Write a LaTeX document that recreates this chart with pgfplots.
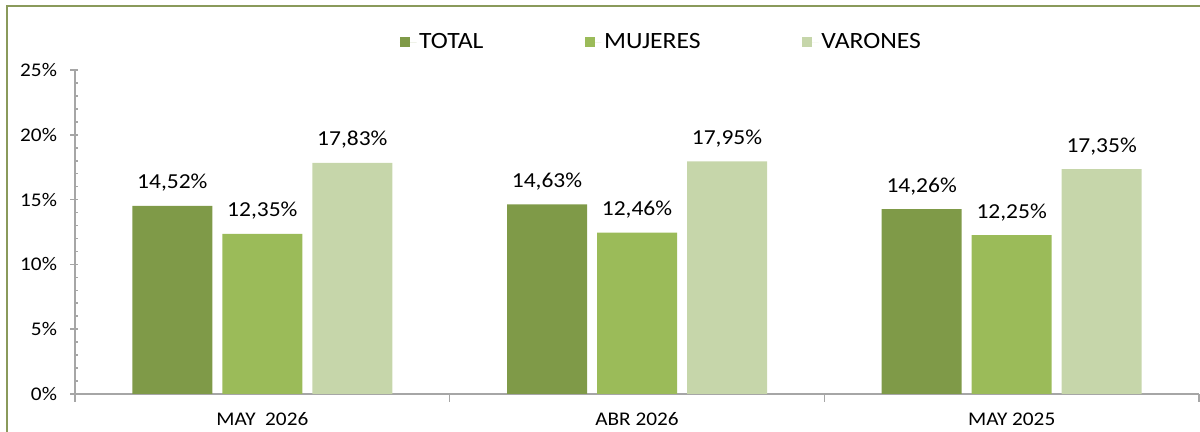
\documentclass[border=0pt]{standalone}
\usepackage{fontspec}
\setmainfont{Carlito}[FakeStretch=1.1]
\usepackage{pgfplots}
\pgfplotsset{compat=1.18}

\definecolor{cTotal}{HTML}{7F9A48}
\definecolor{cMuj}{HTML}{9BBB59}
\definecolor{cVar}{HTML}{C6D6AA}
\definecolor{cFrame}{HTML}{8A9A5B}
\definecolor{cAxis}{HTML}{A6A6A6}

\begin{document}
\begin{tikzpicture}[x=1pt,y=1pt]
  \useasboundingbox (0,0) rectangle (900,324);
  \clip (0,0) rectangle (900,324);
  \draw[cFrame, line width=1.9pt] (5.25,-20) rectangle (930,319.5);
  \begin{axis}[at={(56.25pt,28.5pt)}, anchor=south west,
    scale only axis, width=843pt, height=243pt,
    ybar=7.5pt, bar width=60pt,
    xmin=-0.5, xmax=2.5, ymin=0, ymax=25,
    xtick={-0.5,0.5,1.5,2.5},
    xticklabels={MAY\ \ 2026, ABR 2026, MAY 2025, {}},
    x tick label as interval,
    ytick={0,5,...,25}, minor y tick num=4,
    yticklabel={\pgfmathprintnumber{\tick}\%},
    /pgf/number format/assume math mode=true,
    axis lines*=left, axis line style={cAxis, line width=1.5pt, -},
    tick style={cAxis, line width=1.2pt},
    tick align=outside, major tick length=6pt, minor tick length=2.5pt,
    every major y tick/.append style={xshift=2.5pt},
    every minor y tick/.append style={xshift=2.5pt},
    tick label style={font=\fontsize{14.5}{16}\selectfont, text=black},
    x tick label style={anchor=base, yshift=-18pt},
    y tick label style={xshift=-4pt},
    nodes near coords={\pgfmathprintnumber[fixed,fixed zerofill,precision=2,use comma]{\pgfplotspointmeta}\%},
    nodes near coords style={font=\fontsize{16}{18}\selectfont, text=black, anchor=base, yshift=12.75pt},
    legend columns=3,
    legend style={draw=none, fill=none, at={(rel axis cs:0.522,1.086)}, anchor=center,
      font=\fontsize{17.5}{20}\selectfont, /tikz/every even column/.append style={column sep=74pt}},
    legend image code/.code={\fill[#1] (0pt,-3.75pt) rectangle (7.5pt,3.75pt);
      \path (0pt,0pt) -- (12.5pt,0pt);},
    clip=false]
    \addplot[fill=cTotal, draw=none] coordinates {(0,14.52) (1,14.63) (2,14.26)};
    \addplot[fill=cMuj, draw=none] coordinates {(0,12.35) (1,12.46) (2,12.25)};
    \addplot[fill=cVar, draw=none] coordinates {(0,17.83) (1,17.95) (2,17.35)};
    \legend{TOTAL, MUJERES, VARONES}
  \end{axis}
\end{tikzpicture}
\end{document}
